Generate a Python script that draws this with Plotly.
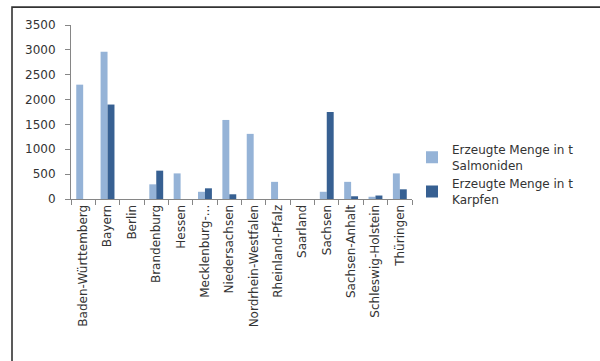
import plotly.graph_objects as go

# Aquaculture output per federal state (tonnes)
laender = [
    "Baden-Württemberg", "Bayern", "Berlin", "Brandenburg", "Hessen",
    "Mecklenburg-...", "Niedersachsen", "Nordrhein-Westfalen", "Rheinland-Pfalz",
    "Saarland", "Sachsen", "Sachsen-Anhalt", "Schleswig-Holstein", "Thüringen",
]
salmoniden = [2300, 2960, 0, 295, 515, 145, 1590, 1310, 345, 0, 145, 345, 45, 515]
karpfen = [0, 1900, 0, 570, 0, 215, 95, 0, 0, 0, 1750, 55, 70, 195]

y_ticks = [0, 500, 1000, 1500, 2000, 2500, 3000, 3500]

FONT = "DejaVu Sans, sans-serif"
TEXT = "#333333"
AXIS_GREY = "#868686"

fig = go.Figure()
fig.add_trace(go.Bar(
    x=laender, y=salmoniden,
    name="Erzeugte Menge in t<br>Salmoniden",
    marker=dict(color="#95B3D7", line=dict(width=0)),
))
fig.add_trace(go.Bar(
    x=laender, y=karpfen,
    name="Erzeugte Menge in t<br>Karpfen",
    marker=dict(color="#376092", line=dict(width=0)),
))

# Outer chart frame (open on the right and bottom edges of the page)
fig.add_shape(
    type="rect", xref="paper", yref="paper",
    x0=-0.173, x1=2.0, y0=-2.0, y1=1.103,
    line=dict(color="#333333", width=1.6), fillcolor="rgba(0,0,0,0)",
    layer="above",
)

fig.update_layout(
    width=600, height=361,
    margin=dict(l=71, r=188, t=25, b=162),
    paper_bgcolor="white", plot_bgcolor="white",
    barmode="group", bargap=0.43, bargroupgap=0,
    font=dict(family=FONT, size=12, color=TEXT),
    showlegend=True,
    legend=dict(
        x=1.0, xanchor="left", y=0.14, yanchor="middle",
        font=dict(family=FONT, size=12, color=TEXT),
        tracegroupgap=10, itemwidth=30,
        bgcolor="rgba(0,0,0,0)",
    ),
    xaxis=dict(
        type="category", tickangle=-90,
        showline=True, linecolor=AXIS_GREY, linewidth=1,
        ticks="outside", tickson="boundaries", ticklen=5, tickcolor=AXIS_GREY,
        showgrid=False, tickfont=dict(size=12),
    ),
    yaxis=dict(
        range=[0, 3500], tickvals=y_ticks,
        showline=True, linecolor=AXIS_GREY, linewidth=1,
        ticks="outside", ticklen=5, tickcolor=AXIS_GREY,
        ticklabelstandoff=7,
        showgrid=False, zeroline=False, tickfont=dict(size=12),
    ),
)

fig.write_html("out.html")
